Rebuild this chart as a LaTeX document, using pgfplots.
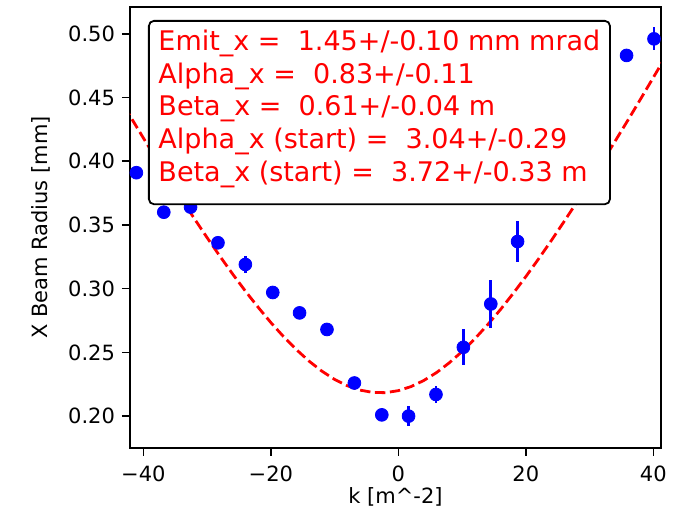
\documentclass[border=0pt]{standalone}
\usepackage{fontspec}
\setmainfont{DejaVu Sans}
\usepackage{pgfplots}
\pgfplotsset{compat=1.18}
\pgfplotstableread{
k y e
-41.1 0.391 0.003
-36.8 0.360 0.003
-32.6 0.364 0.003
-28.3 0.336 0.003
-24.0 0.319 0.007
-19.7 0.297 0.003
-15.5 0.281 0.003
-11.2 0.268 0.003
-6.9 0.226 0.003
-2.6 0.201 0.003
1.6 0.200 0.008
5.9 0.217 0.007
10.2 0.254 0.014
14.5 0.288 0.019
18.7 0.337 0.016
23.0 0.390 0.010
27.3 0.420 0.010
31.6 0.450 0.010
35.8 0.483 0.003
40.1 0.496 0.009
}\datatab
\pgfplotstableread{
k s
-43 0.4430
-42 0.4347
-40 0.4182
-38 0.4019
-36 0.3859
-34 0.3703
-32 0.3549
-30 0.3400
-28 0.3255
-26 0.3115
-24 0.2981
-22 0.2854
-20 0.2734
-18 0.2623
-16 0.2522
-14 0.2431
-12 0.2353
-10 0.2288
-8 0.2238
-6 0.2204
-4 0.2186
-2 0.2184
0 0.2200
2 0.2232
4 0.2280
6 0.2342
8 0.2419
10 0.2507
12 0.2607
14 0.2717
16 0.2835
18 0.2962
20 0.3095
22 0.3234
24 0.3378
26 0.3527
28 0.3679
30 0.3835
32 0.3995
34 0.4157
36 0.4321
38 0.4488
40 0.4657
42 0.4827
}\fittab
\begin{document}
\begin{tikzpicture}
\begin{axis}[
  scale only axis,
  width=265.5pt, height=220.5pt,
  xmin=-42.1, xmax=41.2, ymin=0.175, ymax=0.521,
  xtick={-40,-20,0,20,40},
  xticklabels={−40,−20,0,20,40},
  ytick={0.20,0.25,0.30,0.35,0.40,0.45,0.50},
  yticklabels={0.20,0.25,0.30,0.35,0.40,0.45,0.50},
  tick pos=left,
  tick align=outside,
  major tick length=4pt,
  tick style={black, line width=0.8pt},
  axis line style={line width=0.8pt},
  ticklabel style={font=\fontsize{10.5}{12}\selectfont},
  xticklabel style={yshift=-1.5pt},
  xlabel={}, ylabel={},
]
\addplot[red, line width=1.4pt, dash pattern=on 5.2pt off 2.3pt] table[x=k,y=s] {\fittab};
\addplot[blue, only marks, mark=*, mark size=3.2pt,
  error bars/.cd, y dir=both, y explicit,
  error bar style={line width=1.4pt, blue}, error mark=none]
  table[x=k, y=y, y error=e] {\datatab};
\coordinate (boxcorner) at (rel axis cs:0,1);
\end{axis}
\node[anchor=north west, draw=black, line width=0.9pt, fill=white, rounded corners=2.5pt,
  inner xsep=4.8pt, inner ysep=4.6pt, text=red, align=left,
  font=\fontsize{13.5}{16.3}\selectfont]
  at ([xshift=9pt,yshift=-6.5pt]boxcorner)
  {Emit\_x =\ \ 1.45+/-0.10 mm mrad\\
   Alpha\_x =\ \ 0.83+/-0.11\\
   Beta\_x =\ \ 0.61+/-0.04 m\\
   Alpha\_x (start) =\ \ 3.04+/-0.29\\
   Beta\_x (start) =\ \ 3.72+/-0.33 m\rule[-7pt]{0pt}{1pt}};
\node[rotate=90, font=\fontsize{10.5}{12}\selectfont] at ([xshift=-44.5pt]current axis.west) {X Beam Radius [mm]};
\node[font=\fontsize{10.5}{12}\selectfont] at ([yshift=-24.5pt]current axis.south) {k [m\^{}-2]};
\pgfresetboundingbox
\path[use as bounding box] ([xshift=-65pt,yshift=-35.5pt]current axis.south west) rectangle ([xshift=10pt,yshift=3.5pt]current axis.north east);
\end{tikzpicture}
\end{document}
